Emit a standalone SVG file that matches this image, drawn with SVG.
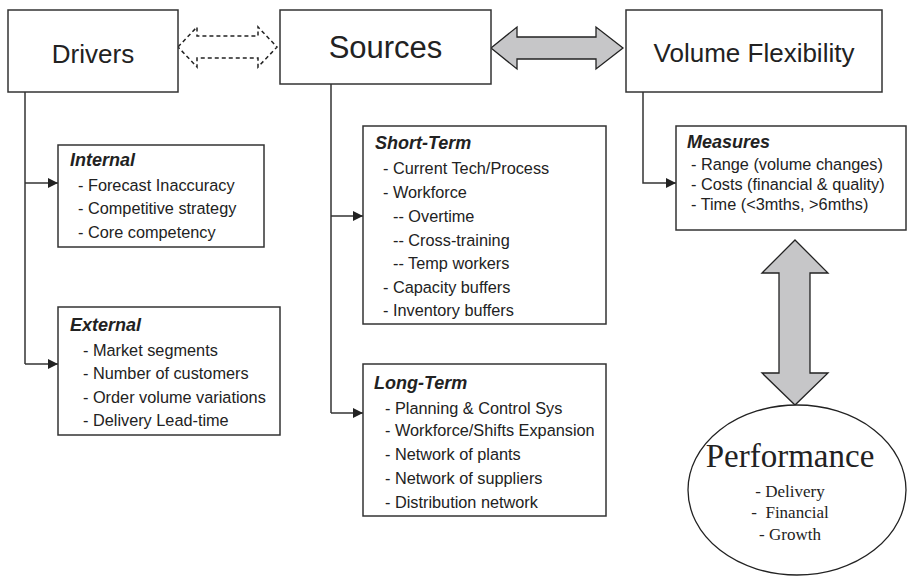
<svg xmlns="http://www.w3.org/2000/svg" width="907" height="576" viewBox="0 0 907 576">
<style>
.box{fill:#fff;stroke:#333;stroke-width:1.5}
.title{font-family:"Liberation Sans",Arial,sans-serif;fill:#222;text-anchor:middle}
.head{font-family:"Liberation Sans",Arial,sans-serif;font-weight:bold;font-style:italic;font-size:18px;fill:#222}
.item{font-family:"Liberation Sans",Arial,sans-serif;font-size:16.3px;fill:#222}
.conn{fill:none;stroke:#333;stroke-width:1.5}
.big{fill:#c6c6c8;stroke:#222;stroke-width:1.3;stroke-linejoin:miter}
.perf{font-family:"Liberation Serif","Times New Roman",serif;fill:#222;text-anchor:middle}
</style>
<defs>
<marker id="ah" viewBox="0 0 10 10" refX="10" refY="5" markerWidth="10" markerHeight="10" markerUnits="userSpaceOnUse" orient="auto">
<path d="M0,0 L10,5 L0,10 z" fill="#222"/>
</marker>
</defs>
<rect width="907" height="576" fill="#fff"/>

<g id="connectors">
<path class="conn" d="M25,92 V364"/>
<path class="conn" d="M25,183 H58" marker-end="url(#ah)"/>
<path class="conn" d="M25,364 H58" marker-end="url(#ah)"/>
<path class="conn" d="M331,84 V413"/>
<path class="conn" d="M331,216 H363" marker-end="url(#ah)"/>
<path class="conn" d="M331,413 H363" marker-end="url(#ah)"/>
<path class="conn" d="M643,92 V183 H676" marker-end="url(#ah)"/>
<path id="dashed-arrow" d="M178,47 L197,27 L197,36 L258,36 L258,27 L277,47 L258,67 L258,58 L197,58 L197,67 Z" fill="#fff" stroke="#222" stroke-width="1.5" stroke-dasharray="4,3"/>
<path id="gray-h-arrow" class="big" d="M491,48 L517,27 L517,37 L596,37 L596,27 L623,48 L596,69 L596,59 L517,59 L517,69 Z"/>
<path id="gray-v-arrow" class="big" d="M795,240 L828,273 L810,273 L810,373 L828,373 L795,405 L762,373 L779,373 L779,273 L762,273 Z"/>
</g>

<g id="drivers">
<rect class="box" x="8" y="10" width="170" height="82"/>
<text class="title" x="93" y="63" font-size="26">Drivers</text>
</g>

<g id="sources">
<rect class="box" x="280" y="10" width="211" height="74"/>
<text class="title" x="385.5" y="58" font-size="31">Sources</text>
</g>

<g id="volume-flexibility">
<rect class="box" x="626" y="10" width="256" height="82"/>
<text class="title" x="754" y="62" font-size="26">Volume Flexibility</text>
</g>

<g id="internal">
<rect class="box" x="58" y="145" width="206" height="102"/>
<text class="head" x="70" y="166">Internal</text>
<text class="item" x="78" y="191">- Forecast Inaccuracy</text>
<text class="item" x="78" y="214">- Competitive strategy</text>
<text class="item" x="78" y="238">- Core competency</text>
</g>

<g id="external">
<rect class="box" x="58" y="307" width="222" height="128"/>
<text class="head" x="70" y="331">External</text>
<text class="item" x="83" y="356">- Market segments</text>
<text class="item" x="83" y="379">- Number of customers</text>
<text class="item" x="83" y="403">- Order volume variations</text>
<text class="item" x="83" y="426">- Delivery Lead-time</text>
</g>

<g id="short-term">
<rect class="box" x="363" y="126" width="243" height="198"/>
<text class="head" x="375" y="149">Short-Term</text>
<text class="item" x="383" y="174">- Current Tech/Process</text>
<text class="item" x="383" y="198">- Workforce</text>
<text class="item" x="393" y="222">-- Overtime</text>
<text class="item" x="393" y="246">-- Cross-training</text>
<text class="item" x="393" y="269">-- Temp workers</text>
<text class="item" x="383" y="293">- Capacity buffers</text>
<text class="item" x="383" y="316">- Inventory buffers</text>
</g>

<g id="long-term">
<rect class="box" x="363" y="364" width="243" height="152"/>
<text class="head" x="374" y="389">Long-Term</text>
<text class="item" x="385" y="414">- Planning &amp; Control Sys</text>
<text class="item" x="385" y="436">- Workforce/Shifts Expansion</text>
<text class="item" x="385" y="460">- Network of plants</text>
<text class="item" x="385" y="484">- Network of suppliers</text>
<text class="item" x="385" y="508">- Distribution network</text>
</g>

<g id="measures">
<rect class="box" x="676" y="126" width="230" height="104"/>
<text class="head" x="687" y="148">Measures</text>
<text class="item" x="691" y="170">- Range (volume changes)</text>
<text class="item" x="691" y="190">- Costs (financial &amp; quality)</text>
<text class="item" x="691" y="210">- Time (&lt;3mths, &gt;6mths)</text>
</g>

<g id="performance">
<ellipse cx="797" cy="490" rx="109" ry="85" fill="#fff" stroke="#222" stroke-width="1.3"/>
<text class="perf" x="790" y="467" font-size="33">Performance</text>
<text class="perf" x="790" y="497" font-size="17">- Delivery</text>
<text class="perf" x="790" y="518" font-size="17" xml:space="preserve">-  Financial</text>
<text class="perf" x="790" y="540" font-size="17">- Growth</text>
</g>
</svg>
